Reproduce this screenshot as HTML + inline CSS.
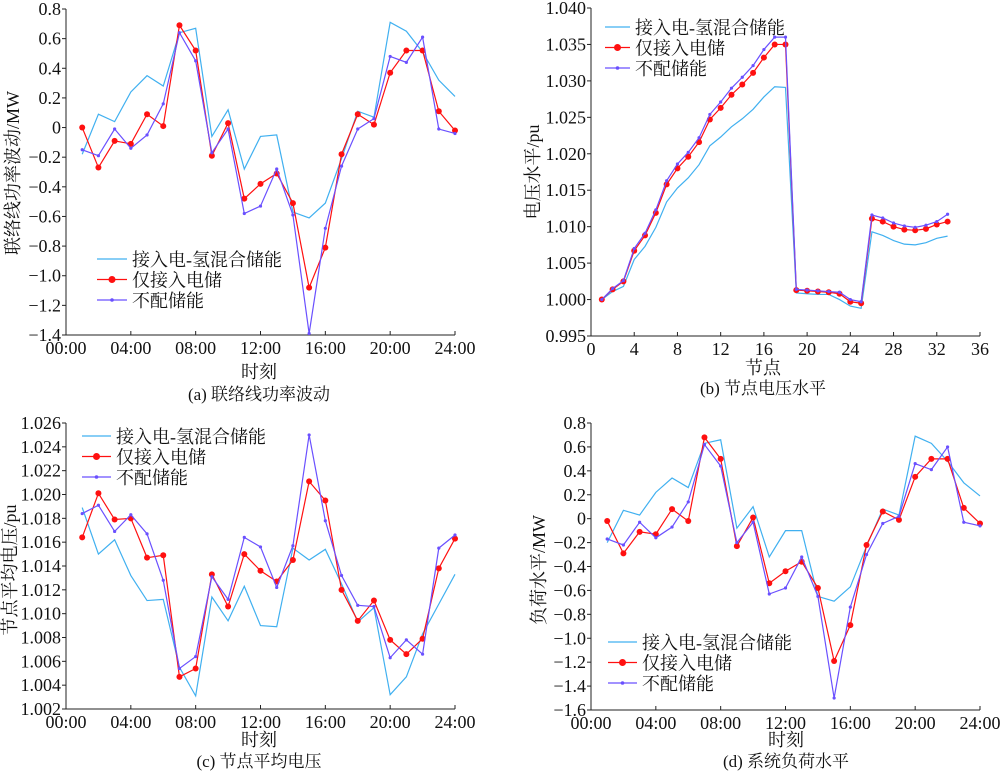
<!DOCTYPE html>
<html><head><meta charset="utf-8"><style>
html,body{margin:0;padding:0;background:#fff;}
svg{display:block;}
svg text{font-family:"Liberation Serif","Times New Roman","Noto Serif CJK SC",serif;fill:#111;}
</style></head><body>
<svg id="s" width="1000" height="772" xmlns="http://www.w3.org/2000/svg" font-family="'Liberation Serif','Noto Serif CJK SC',serif"></svg>
<script>
const S=document.getElementById('s');let h='';
const B='#40b0f0',R='#ff1010',P='#6a50ff';
const FF=`font-family="Liberation Serif, Noto Serif CJK SC, serif"`;
function panel(o){
 const {x0,x1,y0,y1,xmin,xmax,ymin,ymax}=o;
 const X=v=>x0+(v-xmin)/(xmax-xmin)*(x1-x0), Y=v=>y1-(v-ymin)/(ymax-ymin)*(y1-y0);
 h+=`<path d="M${x0} ${y0}V${y1}H${x1}" fill="none" stroke="#222" stroke-width="1"/>`;
 o.yt.forEach(v=>{const y=Y(v);h+=`<line x1="${x0}" x2="${x0-4}" y1="${y}" y2="${y}" stroke="#222"/><text ${FF} x="${x0-5}" y="${y+6}" font-size="18" text-anchor="end">${o.yf(v)}</text>`;});
 o.xt.forEach((v,i)=>{const x=X(v);h+=`<line x1="${x}" x2="${x}" y1="${y1}" y2="${y1-4}" stroke="#222"/><text ${FF} x="${x}" y="${y1+19}" font-size="18" text-anchor="middle">${o.xl[i]}</text>`;});
 const ser=(d,c,m)=>{const pts=d.map((v,i)=>[X(o.xs+i),Y(v)]);h+=`<polyline points="${pts.map(p=>p.join(',')).join(' ')}" fill="none" stroke="${c}" stroke-width="1.2"/>`;
  if(m)pts.forEach(p=>h+=`<circle cx="${p[0]}" cy="${p[1]}" r="${m}" fill="${c}"/>`);};
 ser(o.b,B,0);ser(o.r,R,3);ser(o.p,P,1.6);
 const L=o.lg;const names=['接入电-氢混合储能','仅接入电储','不配储能'];[B,R,P].forEach((c,i)=>{const y=L[2]+i*20.5;
  h+=`<line x1="${L[0]}" x2="${L[1]}" y1="${y}" y2="${y}" stroke="${c}" stroke-width="1.3"/>`;
  if(i==1)h+=`<circle cx="${(L[0]+L[1])/2}" cy="${y}" r="3.5" fill="${c}"/>`;
  if(i==2)h+=`<circle cx="${(L[0]+L[1])/2}" cy="${y}" r="1.8" fill="${c}"/>`;
  h+=`<text ${FF} x="${L[1]+5}" y="${y+7}" font-size="18">${names[i]}</text>`;});
 h+=`<text ${FF} x="${o.yl[0]}" y="${o.yl[1]}" font-size="18" text-anchor="middle" transform="rotate(-90 ${o.yl[0]} ${o.yl[1]})">${o.yl[2]}</text>`;
 h+=`<text ${FF} x="${o.xlab[0]}" y="${o.xlab[1]}" font-size="18" text-anchor="middle">${o.xlab[2]}</text>`;
 h+=`<text ${FF} x="${o.cap[0]}" y="${o.cap[1]}" font-size="17" text-anchor="middle">${o.cap[2]}</text>`;
}
const tl=['00:00','04:00','08:00','12:00','16:00','20:00','24:00'],tv=[0,4,8,12,16,20,24];
const mw=v=>v==0?'0':(v<0?'−':'')+Math.abs(v).toFixed(1);
const rng=(a,b,s)=>{let r=[];for(let v=a;v<=b+1e-9;v+=s)r.push(+v.toFixed(4));return r;};
panel({x0:66,x1:455,y0:9,y1:335,xmin:0,xmax:24,ymin:-1.4,ymax:0.8,xs:1,yt:rng(-1.4,0.8,0.2),yf:mw,xt:tv,xl:tl,
 b:[-0.18,0.09,0.04,0.24,0.35,0.28,0.64,0.67,-0.06,0.12,-0.28,-0.06,-0.05,-0.57,-0.61,-0.51,-0.21,0.11,0.07,0.71,0.65,0.51,0.32,0.21],
 r:[0,-0.27,-0.09,-0.11,0.09,0.01,0.69,0.52,-0.19,0.03,-0.48,-0.38,-0.31,-0.51,-1.08,-0.81,-0.18,0.09,0.02,0.37,0.52,0.52,0.11,-0.02],
 p:[-0.15,-0.19,-0.01,-0.14,-0.05,0.16,0.64,0.45,-0.17,-0.01,-0.58,-0.53,-0.28,-0.59,-1.39,-0.68,-0.26,-0.01,0.06,0.48,0.44,0.61,-0.01,-0.04],
 lg:[97,127,259],yl:[19,173,'联络线功率波动/MW'],xlab:[259,378,'时刻'],cap:[259,400,'(a) 联络线功率波动']});
panel({x0:591,x1:980,y0:8,y1:336,xmin:0,xmax:36,ymin:0.995,ymax:1.040,xs:1,yt:rng(0.995,1.040,0.005),yf:v=>v.toFixed(3),xt:rng(0,36,4),xl:rng(0,36,4),
 b:[1.000,1.0011,1.0018,1.0055,1.0073,1.0099,1.0134,1.0153,1.0167,1.0185,1.0211,1.0223,1.0237,1.0248,1.0261,1.0278,1.0292,1.0291,1.0009,1.0008,1.0007,1.0007,1.0000,0.9991,0.9988,1.0093,1.0088,1.0081,1.0076,1.0075,1.0078,1.0084,1.0087],
 r:[1.000,1.0014,1.0025,1.0067,1.0088,1.0119,1.0158,1.0180,1.0196,1.0216,1.0247,1.0263,1.0281,1.0295,1.0311,1.0332,1.0350,1.0350,1.0013,1.0012,1.0011,1.0010,1.0008,0.9997,0.9995,1.0111,1.0107,1.0100,1.0096,1.0095,1.0097,1.0103,1.0107],
 p:[1.000,1.0015,1.0026,1.0070,1.0091,1.0123,1.0163,1.0186,1.0202,1.0222,1.0254,1.0271,1.0290,1.0305,1.0321,1.0343,1.0360,1.0360,1.0014,1.0013,1.0012,1.0011,1.0010,1.0000,0.9997,1.0116,1.0112,1.0105,1.0101,1.0099,1.0102,1.0107,1.0117],
 lg:[605,630,27],yl:[539,172,'电压水平/pu'],xlab:[763,374,'节点'],cap:[763,394,'(b) 节点电压水平']});
panel({x0:66,x1:455,y0:423,y1:709,xmin:0,xmax:24,ymin:1.002,ymax:1.026,xs:1,yt:rng(1.002,1.026,0.002),yf:v=>v.toFixed(3),xt:tv,xl:tl,
 b:[1.0189,1.0150,1.0162,1.0132,1.0111,1.0112,1.0055,1.0031,1.0114,1.0094,1.0123,1.0090,1.0089,1.0155,1.0145,1.0154,1.0125,1.0093,1.0105,1.0032,1.0047,1.0083,1.0108,1.0133],
 r:[1.0164,1.0201,1.0179,1.0180,1.0147,1.0149,1.0047,1.0054,1.0133,1.0106,1.0150,1.0136,1.0127,1.0145,1.0211,1.0195,1.0120,1.0094,1.0111,1.0078,1.0066,1.0079,1.0138,1.0163],
 p:[1.0184,1.0191,1.0169,1.0183,1.0167,1.0128,1.0054,1.0064,1.0131,1.0112,1.0164,1.0156,1.0122,1.0157,1.0250,1.0178,1.0132,1.0107,1.0106,1.0063,1.0078,1.0066,1.0155,1.0166],
 lg:[82,111,436],yl:[16,570,'节点平均电压/pu'],xlab:[259,746,'时刻'],cap:[259,767,'(c) 节点平均电压']});
panel({x0:591,x1:980,y0:423,y1:710,xmin:0,xmax:24,ymin:-1.6,ymax:0.8,xs:1,yt:rng(-1.6,0.8,0.2),yf:mw,xt:tv,xl:tl,
 b:[-0.2,0.07,0.03,0.22,0.34,0.26,0.63,0.66,-0.08,0.1,-0.32,-0.1,-0.1,-0.65,-0.69,-0.57,-0.23,0.08,0.03,0.69,0.63,0.48,0.3,0.19],
 r:[-0.02,-0.29,-0.11,-0.13,0.08,-0.02,0.68,0.5,-0.23,0.01,-0.54,-0.44,-0.36,-0.58,-1.19,-0.89,-0.22,0.06,-0.01,0.35,0.5,0.5,0.09,-0.04],
 p:[-0.17,-0.22,-0.03,-0.16,-0.07,0.14,0.62,0.44,-0.2,-0.03,-0.63,-0.58,-0.32,-0.65,-1.5,-0.74,-0.3,-0.04,0.02,0.46,0.41,0.6,-0.03,-0.06],
 lg:[608,637,642],yl:[545,570,'负荷水平/MW'],xlab:[786,746,'时刻'],cap:[786,767,'(d) 系统负荷水平']});
S.innerHTML=h;
</script>
</body></html>
